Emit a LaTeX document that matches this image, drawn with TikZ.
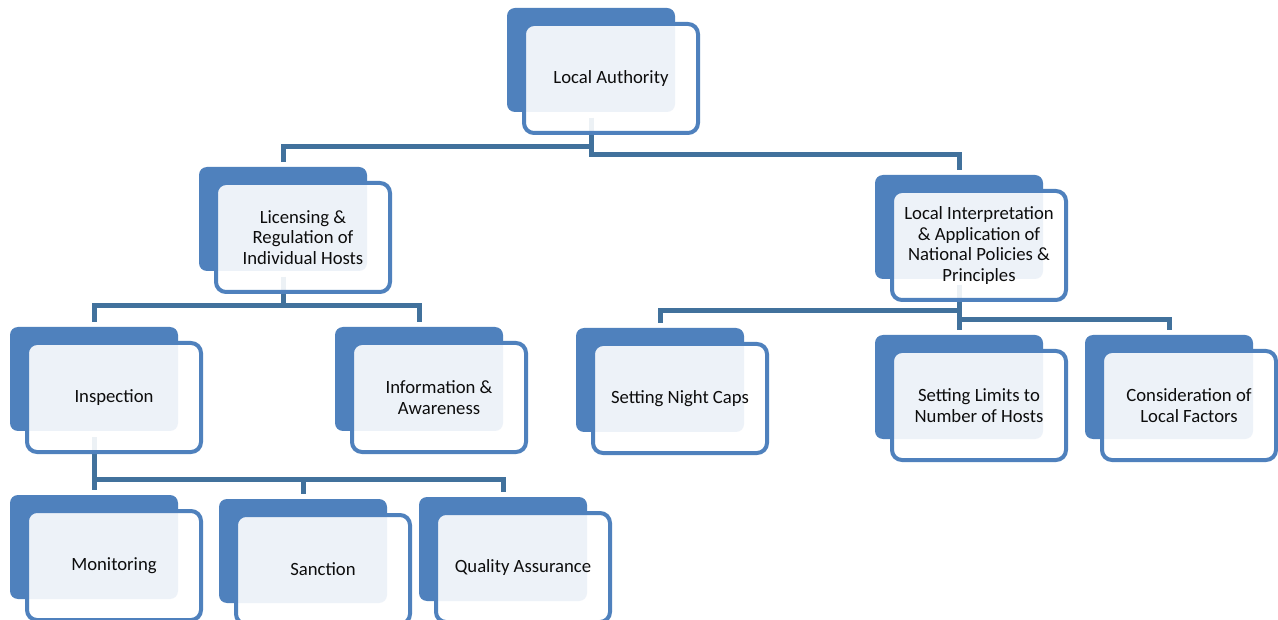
\documentclass[tikz,border=0pt]{standalone}
\usepackage{fontspec}
\setmainfont{Carlito}
\definecolor{boxblue}{HTML}{4F81BD}
\definecolor{connblue}{HTML}{41719C}
\definecolor{txt}{HTML}{0D0D0D}
\tikzset{
  back/.style={fill=boxblue, draw=none, rounded corners=8pt, minimum width=168pt, minimum height=104pt, inner sep=0pt, outer sep=0pt},
  front/.style={fill=white, fill opacity=0.9, text opacity=1, draw=boxblue, draw opacity=1, line width=4pt, rounded corners=10pt, minimum width=174pt, minimum height=109pt, inner sep=2pt, outer sep=0pt, align=center, text=txt, font=\fontsize{18.7}{20.5}\selectfont},
  conn/.style={draw=connblue, line width=5pt, line cap=butt, line join=miter},
}
\newcommand{\backbox}[3]{\node[back] (#1) at (#2+84,#3+52) {};}
\newcommand{\frontbox}[4]{\node[front] (#1) at (#2+104,#3+70.5) {#4};}
\begin{document}
\begin{tikzpicture}[x=1pt,y=-1pt]
\fill[white] (0,0) rectangle (1278,620);
\useasboundingbox (0,0) rectangle (1278,620);
% back boxes
\backbox{dLA}{507}{8}
\backbox{dLIC}{199}{167}
\backbox{dLIP}{875}{175}
\backbox{dINS}{10}{327}
\backbox{dINF}{335}{327}
\backbox{dNC}{576}{328}
\backbox{dSL}{875}{335}
\backbox{dCF}{1085}{335}
\backbox{dMON}{10}{495}
\backbox{dSAN}{219}{499}
\backbox{dQA}{419}{497}
% connectors
\draw[conn] ([yshift=-6pt]dLA.south) -- ++(0,29) -| ([yshift=5pt]dLIC.north);
\draw[conn] ([yshift=-6pt]dLA.south) -- ++(0,37) -| ([yshift=5pt]dLIP.north);
\draw[conn] ([yshift=-6pt]dLIC.south) -- ++(0,29) -| ([yshift=5pt]dINS.north);
\draw[conn] ([yshift=-6pt]dLIC.south) -- ++(0,29) -| ([yshift=5pt]dINF.north);
\draw[conn] ([yshift=-6pt]dINS.south) -- ++(0,42) -| ([yshift=5pt]dMON.north);
\draw[conn] ([yshift=-6pt]dINS.south) -- ++(0,42) -| ([yshift=5pt]dSAN.north);
\draw[conn] ([yshift=-6pt]dINS.south) -- ++(0,42) -| ([yshift=5pt]dQA.north);
\draw[conn] ([yshift=-6pt]dLIP.south) -- ++(0,26) -| ([yshift=5pt]dNC.north);
\draw[conn] ([yshift=-6pt]dLIP.south) -- ([yshift=5pt]dSL.north);
\draw[conn] ([yshift=-6pt]dLIP.south) -- ++(0,35) -| ([yshift=5pt]dCF.north);
% front boxes
\frontbox{LA}{507}{8}{Local Authority}
\frontbox{LIC}{199}{167}{Licensing \&\\Regulation of\\Individual Hosts}
\frontbox{LIP}{875}{175}{Local Interpretation\\\& Application of\\National Policies \&\\Principles}
\frontbox{INS}{10}{327}{Inspection}
\frontbox{INF}{335}{327}{Information \&\\Awareness}
\frontbox{NC}{576}{328}{Setting Night Caps}
\frontbox{SL}{875}{335}{Setting Limits to\\Number of Hosts}
\frontbox{CF}{1085}{335}{Consideration of\\Local Factors}
\frontbox{MON}{10}{495}{Monitoring}
\frontbox{SAN}{219}{499}{Sanction}
\frontbox{QA}{419}{497}{Quality Assurance}
\end{tikzpicture}
\end{document}
